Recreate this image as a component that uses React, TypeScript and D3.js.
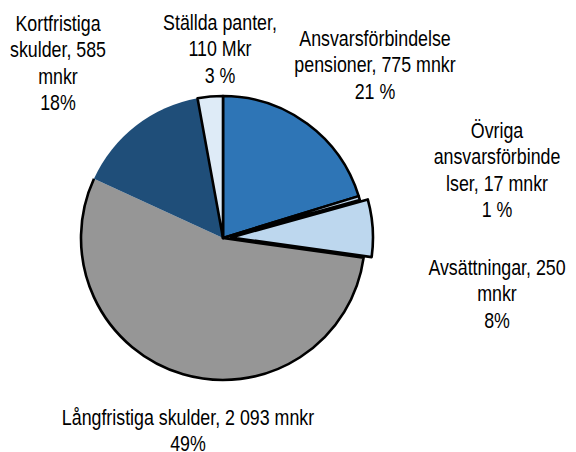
import React from "react";
import * as d3 from "d3";

const categories = [
  "Ansvarsförbindelse pensioner",
  "Övriga ansvarsförbindelser",
  "Avsättningar",
  "Långfristiga skulder",
  "Kortfristiga skulder",
  "Ställda panter",
];
const values = [775, 17, 250, 2093, 585, 110];
const colors = ["#2E75B6", "#BDD7EE", "#BDD7EE", "#969696", "#1F4E79", "#DEEBF7"];
const labelLines = [
  ["Ansvarsförbindelse", "pensioner, 775 mnkr", "21 %"],
  ["Övriga", "ansvarsförbinde", "lser, 17 mnkr", "1 %"],
  ["Avsättningar, 250", "mnkr", "8%"],
  ["Långfristiga skulder, 2 093 mnkr", "49%"],
  ["Kortfristiga", "skulder, 585", "mnkr", "18%"],
  ["Ställda panter,", "110 Mkr", "3 %"],
];
const labelPos: [number, number][] = [
  [375, 45.5],
  [497, 137.5],
  [497, 274.5],
  [188, 424.5],
  [58, 30.5],
  [220, 29.5],
];

const W = 576;
const H = 452;
const cx = 223;
const cy = 238;
const R = 142;
const explodeIndex = 2;
const explodeDist = 8;
const narrow = 0.81;

export default function App() {
  const pie = d3.pie<number>().sort(null).value((d) => d);
  const arcs = pie(values);
  const arcGen = d3.arc<d3.PieArcDatum<number>>().innerRadius(0).outerRadius(R);

  const renderSlice = (a: d3.PieArcDatum<number>, i: number) => {
    let dx = 0, dy = 0;
    if (i === explodeIndex) {
      const mid = (a.startAngle + a.endAngle) / 2;
      dx = Math.sin(mid) * explodeDist;
      dy = -Math.cos(mid) * explodeDist;
    }
    const noStroke = i === 4;
    const grayCustom = i === 3;
    const fillPath = arcGen(a) || "";
    let strokePath: string | null = null;
    if (grayCustom) {
      const p = d3.path();
      p.moveTo(0, 0);
      p.lineTo(Math.sin(a.startAngle) * R, -Math.cos(a.startAngle) * R);
      p.arc(0, 0, R, a.startAngle - Math.PI / 2, a.endAngle - Math.PI / 2, false);
      strokePath = p.toString();
    }
    return (
      <g key={i} transform={`translate(${cx + dx},${cy + dy})`}>
        <path
          d={fillPath}
          fill={colors[i]}
          stroke={noStroke || grayCustom ? "none" : "#000"}
          strokeWidth={2.6}
          strokeLinejoin="round"
        />
        {strokePath && (
          <path d={strokePath} fill="none" stroke="#000" strokeWidth={2.6} strokeLinejoin="round" />
        )}
      </g>
    );
  };

  const order = [3, 4, 0, 1, 5, 2];

  return (
    <svg
      width={W}
      height={H}
      style={{ position: "absolute", left: 0, top: 0, background: "#fff" }}
      fontFamily="'Liberation Sans', Arial, sans-serif"
    >
      {order.map((i) => renderSlice(arcs[i], i))}
      {labelLines.map((lines, i) => (
        <g key={categories[i]} transform={`translate(${labelPos[i][0]},${labelPos[i][1]}) scale(${narrow},1)`}>
          <text x={0} y={0} textAnchor="middle" fontSize={22} fill="#000">
            {lines.map((l, j) => (
              <tspan key={j} x={0} dy={j === 0 ? 0 : 26.6}>
                {l}
              </tspan>
            ))}
          </text>
        </g>
      ))}
    </svg>
  );
}
